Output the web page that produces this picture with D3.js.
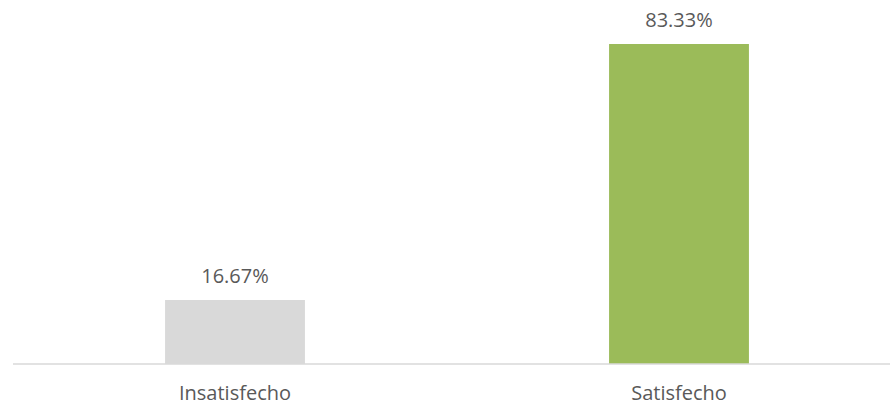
<!DOCTYPE html>
<html>
<head>
<meta charset="utf-8">
<script src="https://cdn.jsdelivr.net/npm/d3@7"></script>
<style>
  body { margin: 0; background: #fff; }
  text { font-family: "Open Sans", "Noto Sans", sans-serif; fill: #595959; }
</style>
</head>
<body>
<svg width="890" height="407"></svg>
<script>
var categories = ["Insatisfecho", "Satisfecho"];
var values = [16.67, 83.33];
var colors = ["#d9d9d9", "#9bbb59"];

var svg = d3.select("svg"),
    width = +svg.attr("width"),
    height = +svg.attr("height");

var x = d3.scaleBand()
    .domain(categories)
    .range([13, 901])
    .paddingInner(0.685)
    .paddingOuter(0.3425);

var y = d3.scaleLinear()
    .domain([0, 90])
    .range([364, 364 - 90 * 3.84]);

// bars
svg.selectAll("rect.bar")
    .data(values)
  .enter().append("rect")
    .attr("class", "bar")
    .attr("x", function(d, i) { return x(categories[i]); })
    .attr("y", function(d) { return y(d); })
    .attr("width", x.bandwidth())
    .attr("height", function(d) { return y(0) - y(d); })
    .style("fill", function(d, i) { return colors[i]; });

// axis line
svg.append("line")
    .attr("x1", 13).attr("x2", width)
    .attr("y1", y(0)).attr("y2", y(0))
    .style("stroke", "#d9d9d9")
    .style("stroke-width", 1.5);

// value labels
svg.selectAll("text.val")
    .data(values)
  .enter().append("text")
    .attr("class", "val")
    .attr("x", function(d, i) { return x(categories[i]) + x.bandwidth() / 2; })
    .attr("y", function(d) { return y(d) - 17; })
    .attr("text-anchor", "middle")
    .style("font-size", "20px")
    .text(function(d) { return d.toFixed(2) + "%"; });

// category labels
svg.selectAll("text.cat")
    .data(categories)
  .enter().append("text")
    .attr("class", "cat")
    .attr("x", function(d) { return x(d) + x.bandwidth() / 2; })
    .attr("y", 400)
    .attr("text-anchor", "middle")
    .style("font-size", "20px")
    .text(function(d) { return d; });
</script>
</body>
</html>
